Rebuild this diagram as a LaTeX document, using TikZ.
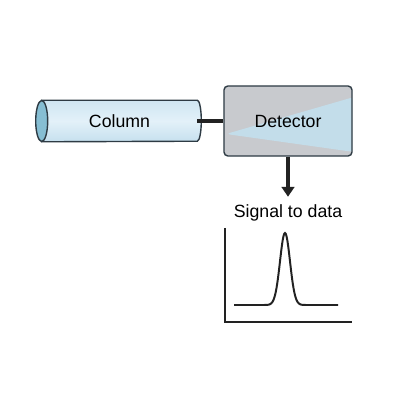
\documentclass[tikz,border=0pt]{standalone}
\usepackage{fontspec}
\setmainfont{Liberation Sans}
\usetikzlibrary{arrows.meta,positioning,backgrounds}
\definecolor{tubetop}{HTML}{CFE6F2}
\definecolor{tubemid}{HTML}{E3F1F9}
\definecolor{tubebot}{HTML}{C6E0EE}
\definecolor{tubeend}{HTML}{86BED3}
\definecolor{edgecol}{HTML}{2E3B44}
\definecolor{detgray}{HTML}{C8CACE}
\definecolor{detblue}{HTML}{C3DDEA}
\definecolor{pipecol}{HTML}{222222}

\begin{document}
\begin{tikzpicture}[
    x=0.025cm, y=0.025cm,
    txt/.style={font=\fontsize{12.6}{15}\selectfont, text=black, inner sep=0pt},
    detbox/.style={txt, rectangle, draw=edgecol, line width=1pt, rounded corners=0.1cm, fill=detgray, minimum width=3.2cm, minimum height=1.75cm},
    pipe/.style={draw=pipecol, line width=3.5pt},
    flow/.style={draw=pipecol, line width=2.8pt, -{Triangle[width=9pt, length=7pt]}},
    axis/.style={draw=pipecol, line width=1pt},
    trace/.style={draw=pipecol, line width=1.4pt}
]
\useasboundingbox (0,0) rectangle (409,409);
\node[txt, minimum width=3.875cm, minimum height=1.025cm] (column) at (119.5,288) {Column};
\node[detbox, path picture={
    \fill[detblue] ([shift={(-62,-13)}]path picture bounding box.center)
        -- ([shift={(66,24)}]path picture bounding box.center)
        -- ([shift={(66,-31)}]path picture bounding box.center) -- cycle;
    }] (detector) at (288,288) {Detector};
\node[txt, inner sep=5.5pt] (signal) at (288,196) {Signal to data};
% column drawn behind its label
\begin{scope}[on background layer]
\draw[top color=tubetop, bottom color=tubebot, middle color=tubemid, draw=edgecol, line width=1pt]
    (column.north west) -- (column.north east)
    arc[start angle=90, end angle=-90, x radius=4, y radius=20.5]
    -- (column.south west) -- cycle;
\draw[fill=tubeend, draw=edgecol, line width=1pt] (column.west) ellipse[x radius=6, y radius=20.5];
\end{scope}
\draw[pipe] (column.east) -- (detector.west);
\draw[flow] (detector.south) -- (signal.north);
% chromatogram
\draw[axis] (225,181) -- (225,87) -- (352,87);
\draw[trace] plot[domain=234:338, samples=160, smooth] (\x, {104 + 72*exp(-((\x-285)^2)/50)});
\end{tikzpicture}
\end{document}
